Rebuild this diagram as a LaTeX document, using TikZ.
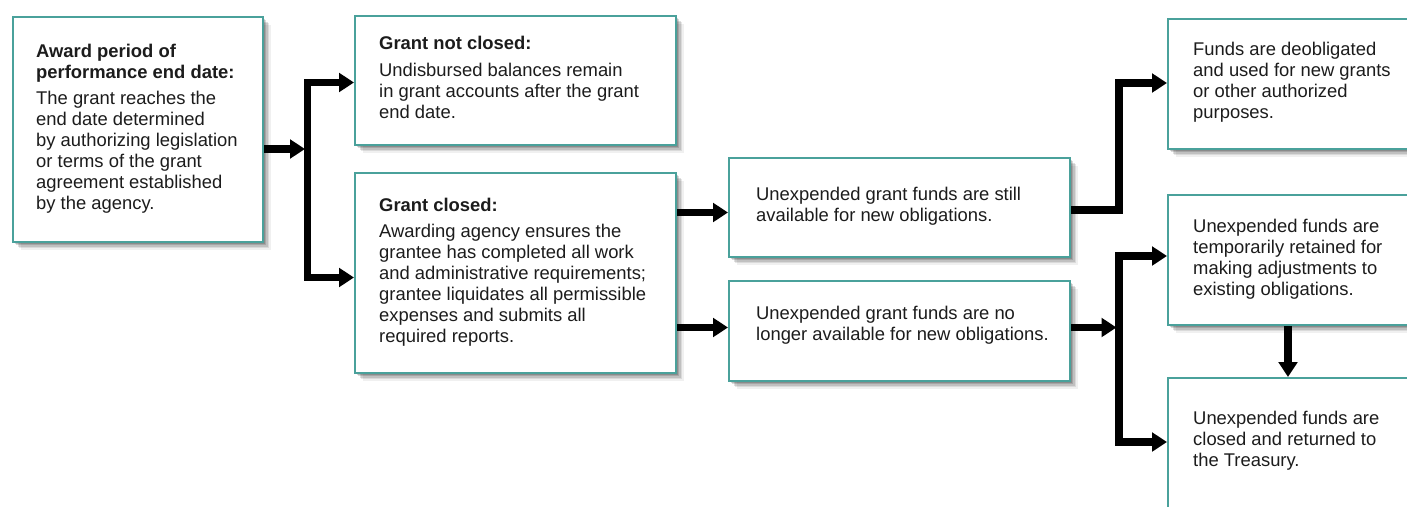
\documentclass[tikz,border=0pt]{standalone}
\usepackage{fontspec}
\setmainfont{Liberation Sans}
\usetikzlibrary{arrows.meta,shadows}
\definecolor{boxline}{HTML}{4AA19B}
\definecolor{txtc}{HTML}{1C1C1C}
\tikzset{
  sh/.style={
    general shadow={fill=black,opacity=0.16,shadow xshift=1.5pt,shadow yshift=-1.5pt},
    general shadow={fill=black,opacity=0.14,shadow xshift=3pt,shadow yshift=-3pt},
    general shadow={fill=black,opacity=0.12,shadow xshift=4.5pt,shadow yshift=-4.5pt},
    general shadow={fill=black,opacity=0.09,shadow xshift=6pt,shadow yshift=-6pt},
    general shadow={fill=black,opacity=0.06,shadow xshift=7.5pt,shadow yshift=-7.5pt}},
  box/.style={rectangle, draw=boxline, line width=2pt, fill=white, inner sep=0pt, anchor=north west, sh},
  txt/.style={anchor=base west, align=left, inner sep=0pt, text=txtc, font=\fontsize{18.4}{21}\selectfont},
  arr/.style={line width=7.5pt, line join=miter, -{Triangle[length=15pt,width=18.5pt]}},
}
\begin{document}
\begin{tikzpicture}[x=1pt,y=-1pt]
\useasboundingbox (0,0) rectangle (1407,506);
% boxes
\node[box, minimum width=250pt, minimum height=225pt] (b1) at (12,16) {};
\node[box, minimum width=321pt, minimum height=129pt] (b2) at (354,15) {};
\node[box, minimum width=321pt, minimum height=200pt] (b3) at (354,172) {};
\node[box, minimum width=341pt, minimum height=99pt] (b4) at (728,157) {};
\node[box, minimum width=341pt, minimum height=100pt] (b5) at (728,280) {};
\node[box, minimum width=270pt, minimum height=130pt] (b6) at (1167,18) {};
\node[box, minimum width=270pt, minimum height=130pt] (b7) at (1167,194) {};
\node[box, minimum width=270pt, minimum height=150pt] (b8) at (1167,377) {};
% texts (anchored at the baseline of their last line)
\node[txt] (t1) at (36,209) {\textbf{Award period of}\\\textbf{performance end date:}\\[5pt]The grant reaches the\\end date determined\\by authorizing legislation\\or terms of the grant\\agreement established\\by the agency.};
\node[txt] (t2) at (379,118) {\textbf{Grant not closed:}\\[6pt]Undisbursed balances remain\\in grant accounts after the grant\\end date.};
\node[txt] (t3) at (379,342) {\textbf{Grant closed:}\\[5pt]Awarding agency ensures the\\grantee has completed all work\\and administrative requirements;\\grantee liquidates all permissible\\expenses and submits all\\required reports.};
\node[txt] (t4) at (756,221) {Unexpended grant funds are still\\available for new obligations.};
\node[txt] (t5) at (756,340) {Unexpended grant funds are no\\longer available for new obligations.};
\node[txt] (t6) at (1193,118) {Funds are deobligated\\and used for new grants\\or other authorized\\purposes.};
\node[txt] (t7) at (1193,295) {Unexpended funds are\\temporarily retained for\\making adjustments to\\existing obligations.};
\node[txt] (t8) at (1193,466) {Unexpended funds are\\closed and returned to\\the Treasury.};
% junction coordinates
\coordinate (j1) at (307.5,149);
\coordinate (y2) at (0,82.5);
\coordinate (y3) at (0,277.5);
\coordinate (y4) at (0,212.5);
\coordinate (y5) at (0,327.5);
\coordinate (j2) at (1119,210);
\coordinate (y6) at (0,83);
\coordinate (j3) at (1119,327.5);
\coordinate (y7) at (0,256);
\coordinate (y8) at (0,442);
\coordinate (xd) at (1288,0);
% connectors
\draw[arr, shorten >=2.5pt] (b1.east |- j1) -- (j1);
\draw[arr] (j1) |- (b2.west |- y2);
\draw[arr] (j1) |- (b3.west |- y3);
\draw[arr] (b3.east |- y4) -- (b4.west |- y4);
\draw[arr] (b3.east |- y5) -- (b5.west |- y5);
\draw[arr] (b4.east |- j2) -- (j2) |- (b6.west |- y6);
\draw[arr, shorten >=2.5pt] (b5.east |- j3) -- (j3);
\draw[arr] (j3) |- (b7.west |- y7);
\draw[arr] (j3) |- (b8.west |- y8);
\draw[arr] (b7.south -| xd) -- (b8.north -| xd);
\end{tikzpicture}
\end{document}
